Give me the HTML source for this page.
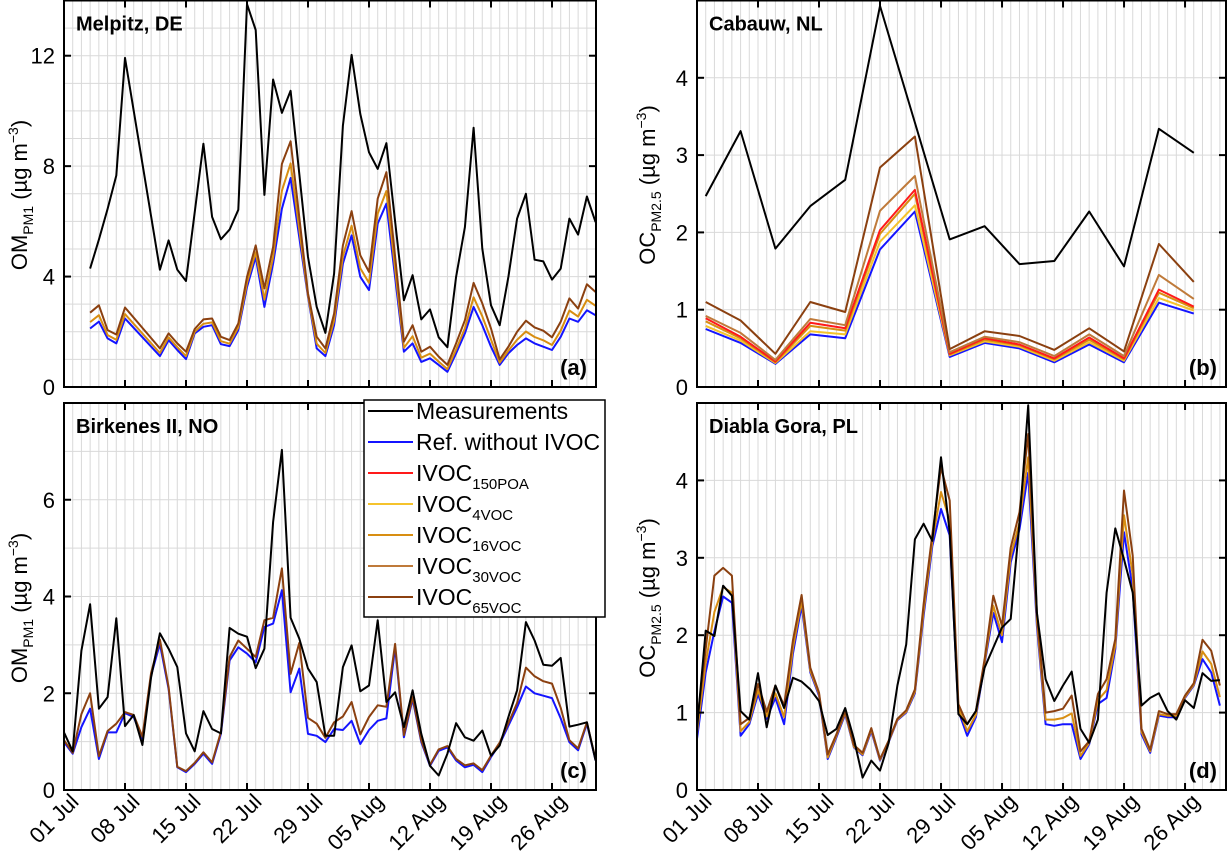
<!DOCTYPE html>
<html><head><meta charset="utf-8"><style>
html,body{margin:0;padding:0;background:#fff;}
svg{display:block;font-family:"Liberation Sans",sans-serif;}
</style></head><body>
<svg id="chart" width="1228" height="859" viewBox="0 0 1228 859"></svg>
<script>
// ---------- data ----------
const tickDays = [0,7,14,21,28,35,42,49,56];
const tickDates = ["01 Jul","08 Jul","15 Jul","22 Jul","29 Jul","05 Aug","12 Aug","19 Aug","26 Aug"];

// Panel (a) Melpitz
const measDaysA = [3,4,5,6,7,11,12,13,14,16,17,18,19,20,21,22,23,24,25,26,28,29,30,31,32,33,34,35,36,37,39,40,41,42,43,44,45,46,47,48,49,50,51,52,53,54,55,56,57,58,59,60,61];
const measA = [4.29,5.34,6.45,7.66,11.92,4.25,5.31,4.25,3.84,8.81,6.16,5.35,5.70,6.42,13.87,12.93,6.96,11.14,9.93,10.73,4.71,2.90,1.96,4.11,9.47,12.03,9.89,8.50,7.90,8.83,3.14,4.05,2.45,2.81,1.80,1.44,3.99,5.79,9.39,5.01,2.96,2.24,3.99,6.10,7.00,4.61,4.55,3.89,4.29,6.10,5.52,6.90,5.97];
const modelDaysA = [3,4,5,6,7,11,12,13,14,15,16,17,18,19,20,21,22,23,24,25,26,28,29,30,31,32,33,34,35,36,37,39,40,41,42,43,44,45,46,47,48,49,50,51,52,53,54,55,56,57,58,59,60,61];
const refA = [2.12,2.37,1.76,1.58,2.48,1.12,1.70,1.34,1.01,1.94,2.18,2.24,1.55,1.48,2.06,3.62,4.71,2.90,4.47,6.46,7.57,3.26,1.40,1.12,2.24,4.47,5.49,3.99,3.51,5.92,6.64,1.28,1.58,0.91,1.04,0.80,0.55,1.22,1.94,2.90,2.24,1.46,0.80,1.22,1.52,1.76,1.58,1.46,1.34,1.82,2.48,2.36,2.78,2.60];
const ivoc16A = [2.35,2.60,1.88,1.71,2.64,1.23,1.80,1.44,1.12,2.00,2.29,2.34,1.66,1.57,2.16,3.77,4.88,3.17,4.71,7.11,8.10,3.31,1.57,1.23,2.41,4.73,5.84,4.30,3.77,6.28,7.10,1.42,1.84,1.06,1.21,0.92,0.65,1.36,2.13,3.25,2.56,1.72,0.88,1.32,1.71,2.01,1.81,1.69,1.52,2.04,2.77,2.55,3.16,2.94];
const ivoc65A = [2.69,2.96,2.06,1.90,2.88,1.40,1.94,1.58,1.28,2.10,2.45,2.48,1.82,1.70,2.30,3.99,5.13,3.57,5.07,8.08,8.90,3.39,1.82,1.40,2.66,5.13,6.37,4.77,4.17,6.82,7.78,1.64,2.24,1.28,1.46,1.10,0.80,1.58,2.42,3.77,3.03,2.12,1.00,1.46,2.00,2.40,2.16,2.04,1.80,2.36,3.21,2.84,3.72,3.44];

// Panel (b) Cabauw
const daysB = [1,5,9,13,17,21,25,29,33,37,41,45,49,53,57];
const measB = [2.47,3.31,1.79,2.34,2.68,4.93,3.42,1.91,2.08,1.59,1.63,2.27,1.56,3.34,3.03];
const refB = [0.75,0.57,0.30,0.68,0.63,1.78,2.27,0.39,0.57,0.50,0.32,0.55,0.32,1.09,0.95];
const ivoc150B = [0.89,0.65,0.33,0.83,0.76,2.03,2.55,0.43,0.63,0.55,0.37,0.64,0.37,1.26,1.04];
const ivoc4B = [0.79,0.60,0.31,0.72,0.68,1.88,2.35,0.41,0.59,0.52,0.34,0.58,0.34,1.15,0.99];
const ivoc16B = [0.85,0.63,0.32,0.79,0.73,1.98,2.50,0.42,0.61,0.54,0.36,0.61,0.36,1.22,1.02];
const ivoc30B = [0.92,0.70,0.35,0.88,0.80,2.28,2.73,0.45,0.65,0.58,0.40,0.68,0.40,1.45,1.14];
const ivoc65B = [1.10,0.86,0.43,1.10,0.97,2.84,3.24,0.49,0.72,0.66,0.48,0.76,0.46,1.85,1.36];

// Panel (c) Birkenes II
const measC = [1.19,0.80,2.88,3.84,1.68,1.92,3.55,1.32,1.55,0.93,2.33,3.24,2.92,2.54,1.17,0.80,1.63,1.26,1.17,3.35,3.23,3.17,2.52,2.92,5.54,7.03,3.56,3.13,2.51,2.23,1.12,1.12,2.54,2.99,2.04,2.16,3.51,1.82,2.02,1.30,2.06,1.16,0.50,0.30,0.75,1.38,1.09,1.02,1.23,0.71,0.92,1.51,2.06,3.47,3.09,2.59,2.57,2.73,1.31,1.35,1.40,0.61];
const refC = [0.99,0.75,1.30,1.68,0.64,1.19,1.19,1.59,1.51,1.06,2.37,3.02,2.09,0.47,0.37,0.54,0.75,0.54,1.16,2.68,2.95,2.82,2.64,3.37,3.44,4.13,2.02,2.51,1.16,1.12,0.99,1.26,1.24,1.43,0.95,1.24,1.43,1.48,2.95,1.09,1.88,0.99,0.50,0.81,0.88,0.61,0.47,0.52,0.37,0.68,0.95,1.33,1.71,2.14,2.00,1.95,1.90,1.48,0.99,0.82,1.37,0.61];
const ivoc65C = [1.03,0.77,1.57,2.00,0.70,1.22,1.37,1.61,1.55,1.10,2.42,3.11,2.13,0.48,0.39,0.56,0.78,0.57,1.20,2.75,3.09,2.92,2.75,3.51,3.56,4.58,2.40,3.04,1.49,1.37,1.08,1.40,1.52,1.82,1.15,1.51,1.75,1.72,3.02,1.13,1.92,1.02,0.52,0.84,0.91,0.64,0.51,0.55,0.41,0.71,0.98,1.38,1.80,2.53,2.35,2.25,2.20,1.70,1.03,0.86,1.40,0.63];

// Panel (d) Diabla Gora
const measD = [0.79,2.06,1.99,2.64,2.51,1.02,0.91,1.51,0.81,1.35,1.06,1.45,1.40,1.30,1.15,0.71,0.79,1.06,0.66,0.16,0.38,0.25,0.61,1.35,1.88,3.24,3.44,3.22,4.30,3.33,0.98,0.85,1.02,1.58,1.84,2.10,2.21,3.46,4.97,2.29,1.43,1.15,1.35,1.53,0.79,0.61,0.91,2.55,3.38,2.98,2.55,1.09,1.19,1.25,1.02,0.91,1.16,1.06,1.51,1.41,1.42];
const refD = [0.66,1.52,2.05,2.50,2.42,0.70,0.85,1.24,0.92,1.19,0.85,1.76,2.38,1.52,1.22,0.40,0.68,0.98,0.55,0.45,0.76,0.38,0.62,0.90,1.00,1.25,2.25,3.15,3.63,3.29,1.02,0.70,0.94,1.63,2.29,1.91,2.94,3.37,4.10,2.12,0.85,0.83,0.85,0.85,0.40,0.59,1.11,1.19,1.82,3.33,2.60,0.72,0.48,0.96,0.94,0.94,1.19,1.35,1.69,1.52,1.09];
const ivoc16D = [0.74,1.64,2.30,2.62,2.55,0.76,0.88,1.29,0.95,1.25,0.94,1.83,2.44,1.54,1.24,0.42,0.70,1.00,0.56,0.46,0.78,0.39,0.63,0.91,1.01,1.27,2.31,3.21,3.85,3.48,1.06,0.76,0.97,1.65,2.38,2.00,3.02,3.46,4.30,2.19,0.91,0.91,0.93,0.99,0.44,0.61,1.16,1.29,1.87,3.55,2.78,0.75,0.50,0.98,0.96,0.96,1.20,1.36,1.79,1.63,1.20];
const ivoc65D = [0.87,1.82,2.77,2.87,2.77,0.85,0.93,1.37,1.01,1.35,1.09,1.93,2.52,1.58,1.26,0.46,0.72,1.02,0.58,0.48,0.80,0.40,0.64,0.92,1.03,1.30,2.40,3.30,4.17,3.74,1.11,0.85,1.02,1.69,2.51,2.12,3.13,3.59,4.60,2.29,1.00,1.02,1.05,1.22,0.50,0.63,1.24,1.43,1.95,3.87,3.03,0.79,0.52,1.02,0.98,0.98,1.22,1.38,1.94,1.80,1.35];

// ---------- drawing ----------
const NS = "http://www.w3.org/2000/svg";
const svg = document.getElementById("chart");
const COL = {meas:"#000000", ref:"#1414ff", p150:"#ff1a1a", v4:"#f5c32c", v16:"#d88e12", v30:"#bf7a3a", v65:"#8b4010"};
function mk(tag, attrs, parent){
  const e = document.createElementNS(NS, tag);
  for (const k in attrs) e.setAttribute(k, attrs[k]);
  (parent||svg).appendChild(e);
  return e;
}
function seq(n){ const a=[]; for(let i=0;i<n;i++) a.push(i); return a; }

const panels = [
  {id:"a", x0:64, x1:596, yb:387, yt:0.5, dmax:61.05, vmax:14, labels:[0,4,8,12], title:"Melpitz, DE", tag:"(a)", ylab:["OM","PM1"], yc:195, ylx:27, xlabels:false},
  {id:"b", x0:697, x1:1226, yb:387, yt:0.5, dmax:60.7, vmax:5, labels:[0,1,2,3,4], title:"Cabauw, NL", tag:"(b)", ylab:["OC","PM2.5"], yc:185, ylx:655, xlabels:false},
  {id:"c", x0:64, x1:596, yb:790, yt:403, dmax:61.05, vmax:8, labels:[0,2,4,6], title:"Birkenes II, NO", tag:"(c)", ylab:["OM","PM1"], yc:608, ylx:27, xlabels:true},
  {id:"d", x0:697, x1:1226, yb:790, yt:403, dmax:60.7, vmax:5, labels:[0,1,2,3,4], title:"Diabla Gora, PL", tag:"(d)", ylab:["OC","PM2.5"], yc:598, ylx:655, xlabels:true}
];

function drawSeries(p, days, vals, color, name, w){
  const sx = d => p.x0 + d/p.dmax*(p.x1-p.x0);
  const sy = v => p.yb - v/p.vmax*(p.yb-p.yt);
  const pts = days.map((d,i)=>sx(d).toFixed(1)+","+sy(vals[i]).toFixed(1)).join(" ");
  const pl = mk("polyline",{points:pts, fill:"none", stroke:color, "stroke-width":w||2, "stroke-linejoin":"round"}, p.g);
  
  
}

panels.forEach(p=>{
  const g = mk("g",{});
  
  
  p.g = g;
  const sx = d => p.x0 + d/p.dmax*(p.x1-p.x0);
  const sy = v => p.yb - v/p.vmax*(p.yb-p.yt);
  for (let d=1; d<p.dmax; d++){
    const l = mk("line",{x1:sx(d),x2:sx(d),y1:p.yt,y2:p.yb,stroke:"#d9d9d9","stroke-width":1}, g);
    
    
  }
  for (let v=1; v<p.vmax; v++){
    const l = mk("line",{x1:p.x0,x2:p.x1,y1:sy(v),y2:sy(v),stroke:"#d9d9d9","stroke-width":1}, g);
    
    
  }
  if (p.id==="a"){
    drawSeries(p, modelDaysA, refA, COL.ref, "series-ref-without-ivoc");
    drawSeries(p, modelDaysA, ivoc16A, COL.v16, "series-ivoc-16voc");
    drawSeries(p, modelDaysA, ivoc65A, COL.v65, "series-ivoc-65voc");
    drawSeries(p, measDaysA, measA, COL.meas, "series-measurements");
  } else if (p.id==="b"){
    drawSeries(p, daysB, refB, COL.ref, "series-ref-without-ivoc");
    drawSeries(p, daysB, ivoc4B, COL.v4, "series-ivoc-4voc");
    drawSeries(p, daysB, ivoc16B, COL.v16, "series-ivoc-16voc");
    drawSeries(p, daysB, ivoc150B, COL.p150, "series-ivoc-150poa");
    drawSeries(p, daysB, ivoc30B, COL.v30, "series-ivoc-30voc");
    drawSeries(p, daysB, ivoc65B, COL.v65, "series-ivoc-65voc");
    drawSeries(p, daysB, measB, COL.meas, "series-measurements");
  } else if (p.id==="c"){
    drawSeries(p, seq(refC.length), refC, COL.ref, "series-ref-without-ivoc");
    drawSeries(p, seq(ivoc65C.length), ivoc65C, COL.v65, "series-ivoc-65voc");
    drawSeries(p, seq(measC.length), measC, COL.meas, "series-measurements");
  } else {
    drawSeries(p, seq(refD.length), refD, COL.ref, "series-ref-without-ivoc");
    drawSeries(p, seq(ivoc16D.length), ivoc16D, COL.v16, "series-ivoc-16voc");
    drawSeries(p, seq(ivoc65D.length), ivoc65D, COL.v65, "series-ivoc-65voc");
    drawSeries(p, seq(measD.length), measD, COL.meas, "series-measurements");
  }
  const fr = mk("rect",{x:p.x0,y:p.yt,width:p.x1-p.x0,height:p.yb-p.yt,fill:"none",stroke:"#000","stroke-width":2}, g);
  
  
  tickDays.forEach((d,i)=>{
    const x = sx(d);
    const t1 = mk("line",{x1:x,x2:x,y1:p.yb,y2:p.yb-7,stroke:"#000","stroke-width":2}, g);
    
    
    const t2 = mk("line",{x1:x,x2:x,y1:p.yt,y2:p.yt+7,stroke:"#000","stroke-width":2}, g);
    
    
    if (p.xlabels){
      const lx = x+16, ly = 803;
      const tx = mk("text",{x:lx,y:ly,"text-anchor":"end","font-size":22,transform:"rotate(-45 "+lx+" "+ly+")"}, g);
      tx.textContent = tickDates[i];
      
      
    }
  });
  p.labels.forEach(v=>{
    const y = sy(v);
    const t1 = mk("line",{x1:p.x0,x2:p.x0+7,y1:y,y2:y,stroke:"#000","stroke-width":2}, g);
    
    
    const t2 = mk("line",{x1:p.x1,x2:p.x1-7,y1:y,y2:y,stroke:"#000","stroke-width":2}, g);
    
    
    const tx = mk("text",{x:p.x0-9,y:y+8,"text-anchor":"end","font-size":22}, g);
    tx.textContent = String(v);
    
    
  });
  const yt = mk("text",{x:p.ylx,y:p.yc,"text-anchor":"middle","font-size":22,transform:"rotate(-90 "+p.ylx+" "+p.yc+")"}, g);
  
  
  yt.innerHTML = p.ylab[0]+'<tspan font-size="14" dy="6">'+p.ylab[1]+'</tspan><tspan dy="-6"> (µg m</tspan><tspan font-size="14" dy="-9">−3</tspan><tspan dy="9">)</tspan>';
  const tt = mk("text",{x:p.x0+12,y:p.yt+30,"font-size":20,"font-weight":"bold"}, g);
  tt.textContent = p.title;
  
  
  const tg = mk("text",{x:p.x1-9,y:p.yb-12,"text-anchor":"end","font-size":22,"font-weight":"bold"}, g);
  tg.textContent = p.tag;
  
  
});

// ---------- legend ----------
const legendLabels = [["Measurements",""],["Ref. without IVOC",""],["IVOC","150POA"],["IVOC","4VOC"],["IVOC","16VOC"],["IVOC","30VOC"],["IVOC","65VOC"]];
const legendColors = [COL.meas, COL.ref, COL.p150, COL.v4, COL.v16, COL.v30, COL.v65];
const lg = mk("g",{});


const lbox = mk("rect",{x:364,y:400,width:241,height:217,fill:"#fff",stroke:"#000","stroke-width":1.5}, lg);


legendLabels.forEach((lab,i)=>{
  const y = 411 + i*31;
  const ln = mk("line",{x1:368,x2:413,y1:y,y2:y,stroke:legendColors[i],"stroke-width":2}, lg);
  
  
  const tx = mk("text",{x:416,y:y+8,"font-size":23}, lg);
  
  
  if (lab[1]) tx.innerHTML = lab[0]+'<tspan font-size="15" dy="8">'+lab[1]+'</tspan>';
  else tx.textContent = lab[0];
});
</script>
</body></html>
